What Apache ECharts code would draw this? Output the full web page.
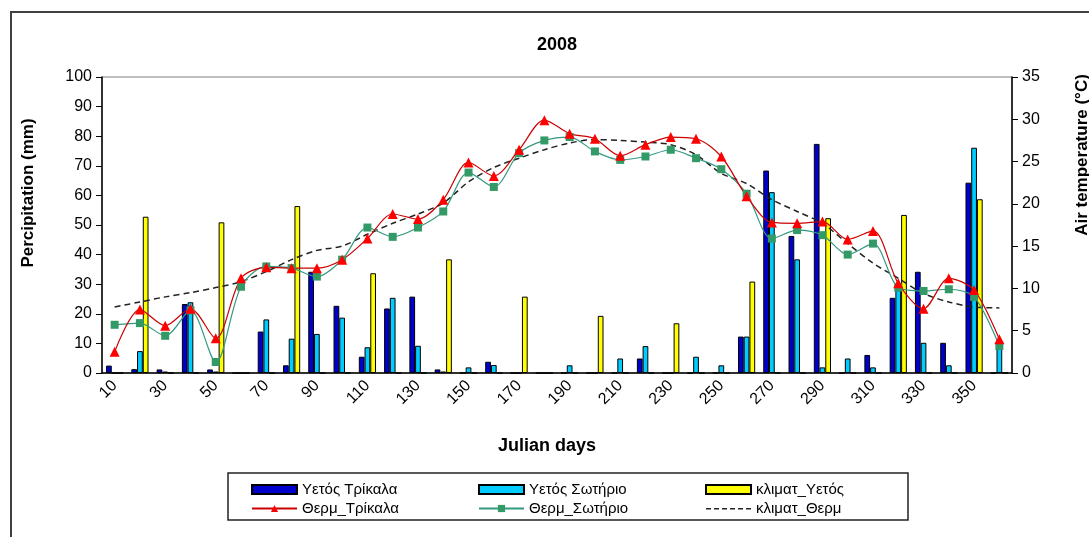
<!DOCTYPE html>
<html>
<head>
<meta charset="utf-8">
<title>2008</title>
<script src="https://cdn.jsdelivr.net/npm/echarts@6/dist/echarts.min.js"></script>
<style>
  html, body { margin: 0; padding: 0; background: #fff; }
  #chart { width: 1089px; height: 537px; }
</style>
</head>
<body>
<div id="chart"></div>
<script>
// Julian days, 10-day steps
var days = ['10','20','30','40','50','60','70','80','90','100','110','120','130','140','150','160','170','180',
            '190','200','210','220','230','240','250','260','270','280','290','300','310','320','330','340','350','360'];

// precipitation (mm)
var rainTrikala = [2.5,1.3,1.2,23.3,1.2,0,14,2.6,34.2,22.7,5.5,21.8,25.8,1.2,0,3.8,0,0,
                   0,0,0,4.9,0,0,0,12.3,68.4,46.3,77.4,0,6.1,25.4,34.2,10.2,64.3,0];
var rainSotirio = [0,7.4,0.5,23.9,0.5,0,18.1,11.6,13.2,18.7,8.7,25.4,9.2,0.5,1.9,2.7,0,0,
                   2.6,0,4.9,9.1,0,5.5,2.6,12.3,61.1,38.4,1.9,4.9,1.9,28,10.2,2.6,76.1,9.5];
var rainClimate = [0,52.8,0,0,50.9,0,0,56.4,0,0,33.7,0,0,38.4,0,0,25.8,0,
                   0,19.3,0,0,16.8,0,0,30.9,0,0,52.3,0,0,53.4,0,0,58.7,0];

// air temperature (°C)
var tempTrikala = [2.5,7.5,5.6,7.6,4.1,11.2,12.5,12.4,12.4,13.4,15.9,18.8,18.2,20.5,24.9,23.3,26.4,29.9,
                   28.3,27.7,25.7,27.0,27.9,27.7,25.6,20.9,17.8,17.7,17.9,15.8,16.8,10.6,7.6,11.2,9.8,4.0];
var tempSotirio = [5.7,5.9,4.4,7.4,1.3,10.2,12.6,12.4,11.4,13.4,17.2,16.1,17.2,19.1,23.7,22.0,26.0,27.5,
                   27.9,26.2,25.2,25.6,26.4,25.4,24.1,21.2,15.9,16.9,16.3,14.0,15.3,10.1,9.7,9.9,9.0,3.2];
var tempClimate = [7.8,8.4,9.0,9.5,10.1,10.8,12.0,13.4,14.5,15.0,16.4,17.7,18.8,20.1,22.6,24.3,25.4,26.4,
                   27.2,27.6,27.5,27.3,27.0,25.8,23.6,22.4,20.5,19.1,17.7,15.3,13.0,11.2,9.4,8.4,7.8,7.7];

var fontName = '"Liberation Sans", Arial, sans-serif';
// dashed legend icon (tiny corner dots keep the 45x9 box)
var dashIcon = 'path://M0,0h0.01v0.01h-0.01z M44.99,8.99h0.01v0.01h-0.01z' +
  ' M0,4h5v1.5h-5z M8,4h5v1.5h-5z M16,4h5v1.5h-5z M24,4h5v1.5h-5z M32,4h5v1.5h-5z M40,4h5v1.5h-5z';

var chart = echarts.init(document.getElementById('chart'));
var legendBase = {
  orient: 'vertical',
  itemWidth: 45,
  itemHeight: 9,
  itemGap: 4,
  padding: 0,
  textStyle: { fontFamily: fontName, fontSize: 15, color: '#000' }
};

chart.setOption({
  animation: false,
  backgroundColor: '#ffffff',
  textStyle: { fontFamily: fontName },
  grid: {
    left: 102, right: 77, top: 77, bottom: 164,
    show: true, borderColor: '#808080', borderWidth: 1
  },
  legend: [
    Object.assign({}, legendBase, { left: 251, top: 482,
      data: [{ name: 'Υετός Τρίκαλα', icon: 'rect' }, 'Θερμ_Τρίκαλα'] }),
    Object.assign({}, legendBase, { left: 478, top: 482,
      data: [{ name: 'Υετός Σωτήριο', icon: 'rect' }, 'Θερμ_Σωτήριο'] }),
    Object.assign({}, legendBase, { left: 705, top: 482,
      data: [{ name: 'κλιματ_Υετός', icon: 'rect' }, { name: 'κλιματ_Θερμ', icon: dashIcon }] })
  ],
  graphic: [
    { type: 'rect', shape: { x: 11, y: 12, width: 1100, height: 560 },
      style: { fill: 'none', stroke: '#404040', lineWidth: 2 }, silent: true },
    { type: 'rect', shape: { x: 228, y: 473, width: 680, height: 47 },
      style: { fill: 'none', stroke: '#222', lineWidth: 1.5 }, silent: true },
    { type: 'text', x: 557, y: 45,
      style: { text: '2008', font: 'bold 18px ' + fontName, fill: '#000', textAlign: 'center', textVerticalAlign: 'middle' } },
    { type: 'text', x: 547, y: 446,
      style: { text: 'Julian days', font: 'bold 18px ' + fontName, fill: '#000', textAlign: 'center', textVerticalAlign: 'middle' } },
    { type: 'text', x: 28, y: 193, rotation: Math.PI / 2,
      style: { text: 'Percipitation (mm)', font: 'bold 17px ' + fontName, fill: '#000', textAlign: 'center', textVerticalAlign: 'middle' } },
    { type: 'text', x: 1082, y: 155, rotation: Math.PI / 2,
      style: { text: 'Air temperature (°C)', font: 'bold 17px ' + fontName, fill: '#000', textAlign: 'center', textVerticalAlign: 'middle' } }
  ],
  xAxis: {
    type: 'category',
    data: days,
    boundaryGap: true,
    axisLine: { lineStyle: { color: '#000', width: 1.5 } },
    axisTick: { interval: 0, length: 5, lineStyle: { color: '#000' } },
    axisLabel: { interval: 1, rotate: 45, fontSize: 16, color: '#000', margin: 10 },
    splitLine: { show: false }
  },
  yAxis: [{
    type: 'value',
    min: 0, max: 100, interval: 10,
    axisLine: { show: true, lineStyle: { color: '#000', width: 1.5 } },
    axisTick: { show: true, length: 6, lineStyle: { color: '#000' } },
    axisLabel: { fontSize: 16, color: '#000', margin: 10 },
    splitLine: { show: false }
  }, {
    type: 'value',
    position: 'right',
    min: 0, max: 35, interval: 5,
    axisLine: { show: true, lineStyle: { color: '#000', width: 1.5 } },
    axisTick: { show: true, length: 6, lineStyle: { color: '#000' } },
    axisLabel: { fontSize: 16, color: '#000', margin: 10 },
    splitLine: { show: false }
  }],
  series: [{
    name: 'Υετός Τρίκαλα', type: 'bar', data: rainTrikala,
    barGap: '0%', barCategoryGap: '32%',
    itemStyle: { color: '#0000CC', borderColor: '#000', borderWidth: 1 }
  }, {
    name: 'Υετός Σωτήριο', type: 'bar', data: rainSotirio,
    itemStyle: { color: '#00CCFF', borderColor: '#000', borderWidth: 1 }
  }, {
    name: 'κλιματ_Υετός', type: 'bar', data: rainClimate,
    itemStyle: { color: '#FFFF00', borderColor: '#000', borderWidth: 1 }
  }, {
    name: 'κλιματ_Θερμ', type: 'line', yAxisIndex: 1, data: tempClimate,
    smooth: 0.3, symbol: 'none',
    lineStyle: { color: '#222', width: 1.5, type: [6, 4] },
    itemStyle: { color: '#222' }
  }, {
    name: 'Θερμ_Σωτήριο', type: 'line', yAxisIndex: 1, data: tempSotirio,
    smooth: 0.3, symbol: 'rect', symbolSize: 8,
    lineStyle: { color: '#339980', width: 1.2 },
    itemStyle: { color: '#339966' }
  }, {
    name: 'Θερμ_Τρίκαλα', type: 'line', yAxisIndex: 1, data: tempTrikala,
    smooth: 0.3, symbol: 'triangle', symbolSize: 10,
    lineStyle: { color: '#CC0000', width: 1.2 },
    itemStyle: { color: '#FF0000' }
  }]
});
</script>
</body>
</html>
